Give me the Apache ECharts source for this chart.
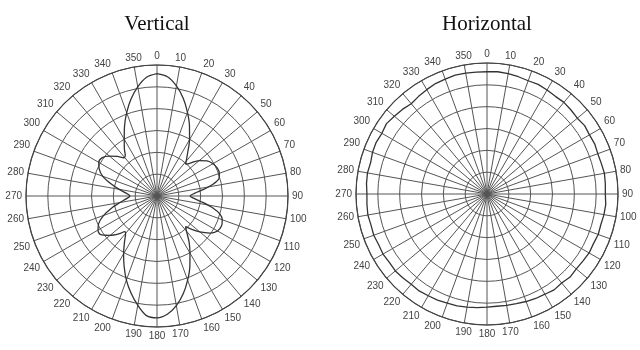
<!DOCTYPE html>
<html>
<head>
    <meta charset="utf-8">
    <title>Vertical / Horizontal pattern</title>
    <script src="https://cdn.jsdelivr.net/npm/echarts@6/dist/echarts.min.js"></script>
</head>
<body style="margin:0;background:#fff">
    <div id="chart" style="width:640px;height:350px;"></div>
    <script type="text/javascript">
        // ---- data (radius on a 0..30 scale, 6 rings) ----
        var titles = ['Vertical', 'Horizontal'];

        var vertAngles = [0, 5, 10, 15, 20, 25, 30, 35, 40, 42, 45, 50, 55, 60, 65, 70, 74, 78, 82, 86,
            90, 94, 98, 102, 106, 110, 115, 120, 125, 130, 134, 137, 140, 145, 150, 155, 160, 165, 170, 175,
            180, 185, 190, 195, 200, 205, 210, 215, 220, 222, 225, 230, 236, 240, 245, 250, 255, 260, 265,
            270, 275, 280, 285, 290, 295, 300, 305, 310, 315, 319, 322, 325, 330, 335, 340, 345, 350, 355, 360];
        var vertValues = [28.0, 27.4, 25.6, 23.2, 20.4, 17.6, 14.9, 12.3, 10.4, 9.8, 10.6, 12.6, 14.0, 14.8, 15.2, 15.2, 14.8, 13.2, 10.8, 8.6,
            7.6, 8.6, 10.6, 13.0, 15.0, 15.9, 16.3, 16.0, 14.8, 12.8, 10.9, 9.6, 10.5, 12.8, 15.1, 17.8, 20.5, 23.2, 25.5, 27.2,
            27.9, 27.5, 25.4, 23.0, 20.5, 17.8, 15.3, 13.0, 11.2, 11.0, 12.2, 14.0, 15.7, 15.6, 14.7, 13.0, 10.8, 8.6, 7.0,
            6.2, 7.0, 8.8, 11.0, 13.2, 14.6, 15.4, 15.3, 14.2, 12.8, 11.6, 11.8, 13.0, 15.0, 17.6, 20.3, 23.0, 25.4, 27.3, 28.0];

        var horAngles = [0, 5, 10, 15, 20, 25, 30, 35, 40, 45, 50, 55, 60, 65, 70, 75, 80, 85,
            90, 95, 100, 105, 110, 115, 120, 125, 130, 135, 140, 145, 150, 155, 160, 165, 170, 175,
            180, 185, 190, 195, 200, 205, 210, 215, 220, 225, 230, 235, 240, 245, 250, 255, 260, 265,
            270, 275, 280, 285, 290, 295, 300, 305, 310, 315, 320, 325, 330, 335, 340, 345, 350, 355, 360];
        var horValues = [28.0, 28.1, 28.0, 27.8, 27.6, 27.7, 27.5, 27.3, 27.4, 27.2, 27.0, 27.3, 27.1, 27.2, 27.0, 27.1, 27.3, 27.2,
            27.1, 27.3, 27.2, 27.0, 27.1, 26.9, 27.0, 26.8, 26.7, 26.9, 26.6, 26.8, 26.5, 26.4, 26.2, 26.0, 25.9, 25.8,
            25.9, 26.1, 26.3, 26.5, 26.6, 26.8, 26.9, 27.1, 27.0, 27.2, 27.4, 27.3, 27.5, 27.4, 27.6, 27.5, 27.7, 27.6,
            27.5, 27.7, 27.8, 27.6, 27.9, 28.0, 27.8, 28.1, 27.7, 27.4, 27.0, 27.3, 27.6, 27.9, 28.0, 28.2, 28.1, 28.0, 28.0];

        var centers = [[157, 196], [487, 194]];

        var gridColor = '#555';

        function angleAxisFor(i) {
            return {
                polarIndex: i,
                type: 'value',
                min: 0,
                max: 360,
                interval: 10,
                startAngle: 90,
                clockwise: true,
                axisLine: { lineStyle: { color: '#444', width: 1.2 } },
                axisTick: { show: false },
                axisLabel: { color: '#444', fontSize: 10, margin: 4, fontFamily: 'Liberation Sans' },
                splitLine: { lineStyle: { color: gridColor, width: 1 } }
            };
        }

        function radiusAxisFor(i) {
            return {
                polarIndex: i,
                min: 0,
                max: 30,
                interval: 5,
                axisLine: { show: false },
                axisTick: { show: false },
                axisLabel: { show: false },
                splitLine: { lineStyle: { color: gridColor, width: 1 } }
            };
        }

        function toPairs(angles, values) {
            return angles.map(function (a, k) { return [values[k], a]; });
        }

        var chart = echarts.init(document.getElementById('chart'));
        var option = {
            backgroundColor: '#fff',
            animation: false,
            title: titles.map(function (t, i) {
                return {
                    text: t,
                    left: centers[i][0] - 5,
                    top: 9,
                    textAlign: 'center',
                    textStyle: { fontFamily: 'Liberation Serif', fontWeight: 'normal', fontSize: 21, color: '#111' }
                };
            }),
            polar: [
                { center: centers[0], radius: 131 },
                { center: centers[1], radius: 131 }
            ],
            angleAxis: [angleAxisFor(0), angleAxisFor(1)],
            radiusAxis: [radiusAxisFor(0), radiusAxisFor(1)],
            series: [
                {
                    type: 'line',
                    coordinateSystem: 'polar',
                    polarIndex: 0,
                    showSymbol: false,
                    smooth: 0.3,
                    lineStyle: { color: '#333', width: 1.3 },
                    data: toPairs(vertAngles, vertValues)
                },
                {
                    type: 'line',
                    coordinateSystem: 'polar',
                    polarIndex: 1,
                    showSymbol: false,
                    lineStyle: { color: '#333', width: 1.3 },
                    data: toPairs(horAngles, horValues)
                }
            ]
        };
        chart.setOption(option);
    </script>
</body>
</html>
